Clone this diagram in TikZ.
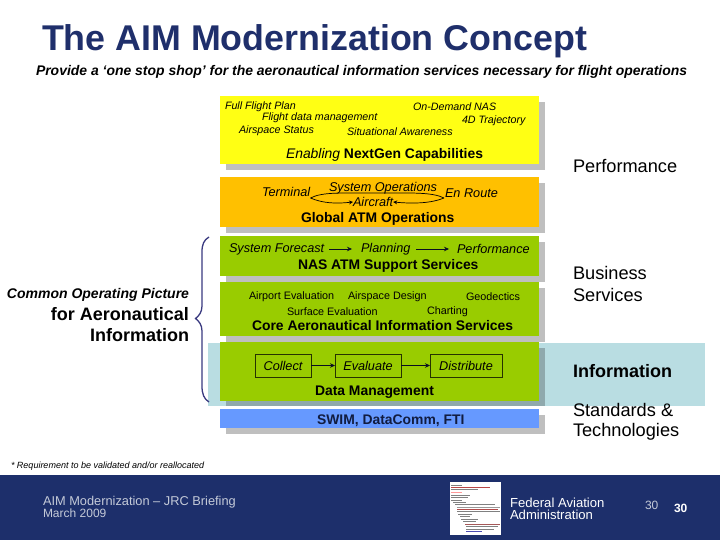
\documentclass[tikz,border=0pt]{standalone}
\usepackage{fontspec}
\setmainfont{Liberation Sans}
\usetikzlibrary{arrows.meta}
\definecolor{navy}{HTML}{1D2F6B}
\definecolor{titleblue}{HTML}{1F2F6B}
\definecolor{paneyellow}{HTML}{FFFF14}
\definecolor{paneorange}{HTML}{FFC000}
\definecolor{panegreen}{HTML}{99CC00}
\definecolor{paneblue}{HTML}{6699FF}
\definecolor{paneteal}{HTML}{B9DDE2}
\definecolor{shadowgrey}{HTML}{BFBFBF}
\definecolor{shadowteal}{HTML}{8FA9AD}
\definecolor{bracecol}{HTML}{3A3A80}
\definecolor{footgrey}{HTML}{C4CAD8}
\tikzset{
  pane/.style={draw=none,inner sep=0pt,outer sep=0pt,anchor=north west,minimum width=319pt},
  lbl/.style={inner sep=0pt,outer sep=0pt,anchor=west,text=black},
  mini/.style={lbl,yshift=-2pt,font=\fontsize{10.7}{12}\selectfont\itshape},
  midi/.style={lbl,font=\fontsize{12.7}{14}\selectfont\itshape},
  plain/.style={lbl,yshift=-2pt,font=\fontsize{10.8}{12}\selectfont},
  head/.style={lbl,yshift=-2pt,font=\fontsize{13.9}{16}\selectfont\bfseries},
  side/.style={lbl,font=\fontsize{18.2}{21}\selectfont},
  flowbox/.style={draw=black!75!panegreen,line width=0.6pt,inner sep=0pt,outer sep=0pt,minimum height=23pt,font=\fontsize{12.7}{14}\selectfont\itshape},
  flowarrow/.style={draw=black!70!navy,line width=0.6pt,-{Stealth[length=5pt,width=4.5pt,fill=navy!70!black]}},
  docline/.style={line width=0.7pt}
}
\begin{document}
\begin{tikzpicture}[x=1pt,y=-1pt]
\useasboundingbox (0,0) rectangle (720,540);
\fill[white] (0,0) rectangle (720,540);
% title
\node[lbl,yshift=-3pt,text=titleblue,font=\fontsize{35.8}{40}\selectfont] (title) at (42,38) {\textbf{The AIM Modernization Concept}};
\node[lbl,yshift=-2pt,font=\fontsize{13.95}{16}\selectfont\bfseries\itshape] (subtitle) at (36,70) {Provide a ‘one stop shop’ for the aeronautical information services necessary for flight operations};
% teal band
\node[pane,fill=paneteal,minimum width=497pt,minimum height=63pt] (band) at (208,343) {};
% shadows
\node[pane,fill=shadowgrey,minimum height=68pt] (s1) at (226,102) {};
\node[pane,fill=shadowgrey,minimum height=50pt] (s2) at (226,183) {};
\node[pane,fill=shadowgrey,minimum height=40pt] (s3) at (226,242) {};
\node[pane,fill=shadowgrey,minimum height=54pt] (s4) at (226,288) {};
\node[pane,fill=shadowteal,minimum height=58pt] (s5) at (226,348) {};
\node[pane,fill=shadowgrey,minimum height=19pt] (s6) at (226,415) {};
% panes
\node[pane,fill=paneyellow,minimum height=68pt] (p1) at (220,96) {};
\node[pane,fill=paneorange,minimum height=50pt] (p2) at (220,177) {};
\node[pane,fill=panegreen,minimum height=40pt] (p3) at (220,236) {};
\node[pane,fill=panegreen,minimum height=54pt] (p4) at (220,282) {};
\node[pane,fill=panegreen,minimum height=59pt] (p5) at (220,342) {};
\node[pane,fill=paneblue,minimum height=19pt] (p6) at (220,409) {};
% yellow pane
\node[mini] (t1) at (225,105) {Full Flight Plan};
\node[mini] (t2) at (262,116) {Flight data management};
\node[mini] (t3) at (239,129) {Airspace Status};
\node[mini] (t4) at (347,130) {Situational Awareness};
\node[mini] (t5) at (413,105) {On-Demand NAS};
\node[mini] (t6) at (462,118.500) {4D Trajectory};
\node[head] (t7) at (286,153) {\textit{\mdseries Enabling} NextGen Capabilities};
% orange pane
\node[midi] (term) at (262,192) {Terminal};
\node[midi] (enroute) at (445,193) {En Route};
\node[midi] (sysop) at (329,188) {System Operations};
\node[midi] (aircraft) at (353,202) {Aircraft};
\node[head] (t8) at (301,217) {Global ATM Operations};
\coordinate (lensL) at (310.500,198);
\coordinate (lensR) at (444,198);
\draw[line width=0.7pt,black] (lensL) .. controls (322,192) and (340,193) .. (376,193) .. controls (412,193) and (432,192) .. (lensR);
\draw[line width=0.7pt,black,-{Stealth[length=4pt,width=4pt]}] (lensL) .. controls (322,203) and (335,204) .. (aircraft.west);
\draw[line width=0.7pt,black,-{Stealth[length=4pt,width=4pt]}] (lensR) .. controls (432,203) and (415,204) .. (aircraft.east);
% NAS pane
\node[midi] (fc) at (229,249) {System Forecast};
\node[midi] (plan) at (361,249) {Planning};
\node[midi] (perf) at (457,249) {Performance};
\draw[flowarrow,shorten <=5pt,shorten >=9pt] (fc) -- (plan);
\draw[flowarrow,shorten <=6pt,shorten >=8pt] (plan) -- (perf);
\node[head] (t9) at (298,264) {NAS ATM Support Services};
% core pane
\node[plain] (c1) at (249,295) {Airport Evaluation};
\node[plain] (c2) at (348,295) {Airspace Design};
\node[plain] (c3) at (466,295) {Geodectics};
\node[plain] (c4) at (287,310) {Surface Evaluation};
\node[plain] (c5) at (427,310) {Charting};
\node[head] (t10) at (252,324) {Core Aeronautical Information Services};
% data pane
\node[flowbox,minimum width=56pt] (collect) at (283,365.500) {Collect};
\node[flowbox,minimum width=66pt] (evaluate) at (368,365.500) {Evaluate};
\node[flowbox,minimum width=72pt] (distribute) at (466,365.500) {Distribute};
\draw[flowarrow] (collect) -- (evaluate);
\draw[flowarrow] (evaluate) -- (distribute);
\node[head] (t11) at (315,390) {Data Management};
% swim
\node[head,text=navy!60!black] (t12) at (317,419) {SWIM, DataComm, FTI};
% left
\node[lbl,anchor=east,yshift=-2pt,font=\fontsize{14}{16}\selectfont\bfseries\itshape] (l1) at (189,293) {Common Operating Picture};
\node[lbl,anchor=east,font=\fontsize{18}{20}\selectfont\bfseries] (l2) at (189,314) {for Aeronautical};
\node[lbl,anchor=east,font=\fontsize{18}{20}\selectfont\bfseries] (l3) at (189,335) {Information};
% brace
\draw[bracecol,line width=1.3pt] (209,237) .. controls (204,240) and (202,244) .. (202,252)
  -- (202,306) .. controls (202,312) and (199,316) .. (195.500,318.500)
  .. controls (199,321) and (202,325) .. (202,331)
  -- (202,386) .. controls (202,394) and (204,399) .. (209,402);
% right
\node[side] (r1) at (573,166) {Performance};
\node[side] (r2) at (573,273) {Business};
\node[side] (r3) at (573,295) {Services};
\node[side,font=\fontsize{18}{21}\selectfont\bfseries] (r4) at (573,371) {Information};
\node[side] (r5) at (573,410) {Standards \&};
\node[side] (r6) at (573,432) {Technologies};
% footnote
\node[lbl,yshift=-1pt,font=\fontsize{9}{10}\selectfont\itshape] (fn) at (11,465) {* Requirement to be validated and/or reallocated};
% footer
\fill[navy] (0,475) rectangle (720,540);
\node[lbl,yshift=-2pt,text=footgrey,font=\fontsize{12.8}{15}\selectfont] (f1) at (43,500) {AIM Modernization – JRC Briefing};
\node[lbl,text=footgrey,font=\fontsize{12}{15}\selectfont] (f2) at (43,513.500) {March 2009};
\node[lbl,text=white,align=left,font=\fontsize{13.1}{12}\selectfont] (f3) at (510,509) {Federal Aviation\\Administration};
\node[lbl,text=footgrey,font=\fontsize{12}{15}\selectfont] (f4) at (645,505) {30};
\node[lbl,text=white,font=\fontsize{12}{15}\selectfont\bfseries] (f5) at (674,508) {30};
% thumbnail
\fill[white] (450,482) rectangle (501,535);
\foreach \ya/\xa/\xb/\c in {485/451/462/gray,487.500/451/490/red!45!gray,489.500/451/478/gray,492/451/462/red!40,495/451/470/gray,497/451/468/gray,500/451/462/gray,502/453/466/gray,504.500/455/495/gray,507/457/500/gray!80,509/457/498/red!40!gray,511.500/457/500/gray,514/458/472/gray,516.500/460/470/gray,519/461/478/gray,521.500/463/476/gray,524/465/500/red!30!gray,526.500/466/498/gray,529/466/494/gray,531.500/466/482/blue!40!gray}
  \draw[docline,\c] (\xa,\ya) -- (\xb,\ya);
\end{tikzpicture}
\end{document}
